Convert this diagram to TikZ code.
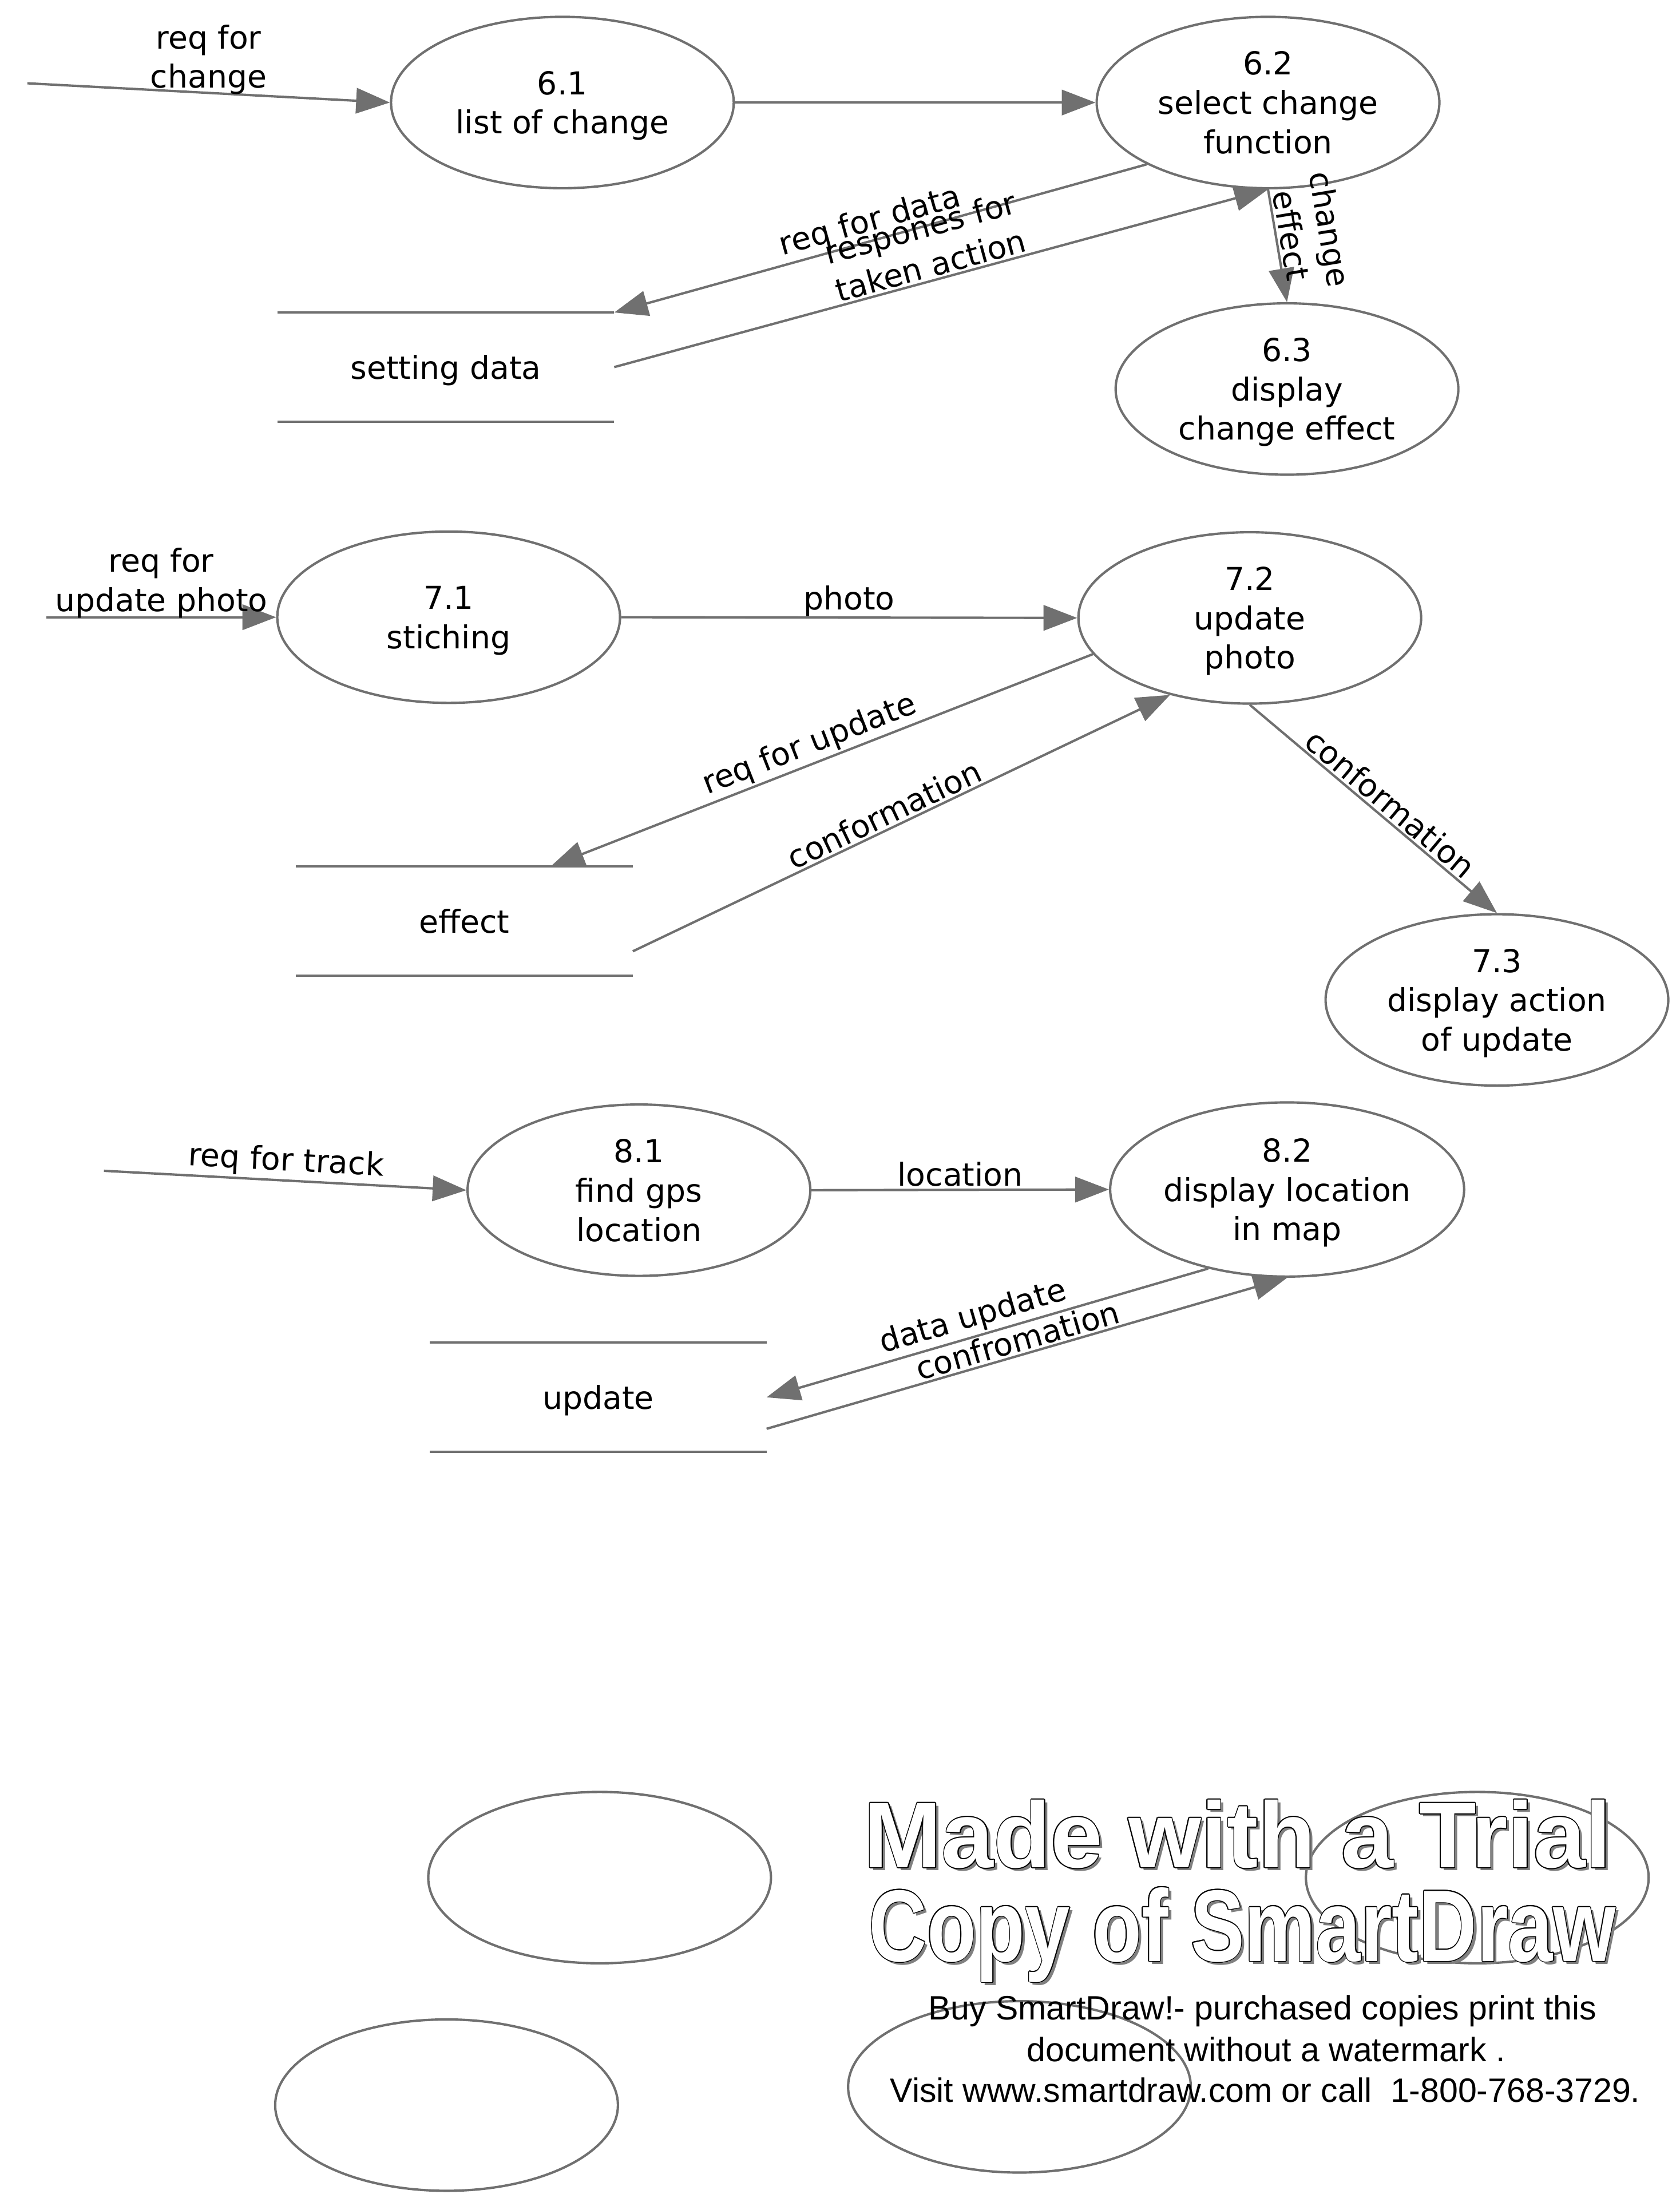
\documentclass[tikz,border=0pt]{standalone}
\usepackage{fontspec}
\usepackage{graphicx}
\setmainfont{DejaVu Sans}
\newfontfamily\wmfont{Liberation Sans}
\usepackage{contour}
\usetikzlibrary{arrows.meta,shapes.geometric}
\definecolor{flowgray}{RGB}{112,112,112}
\definecolor{shadowgray}{RGB}{128,128,128}
\newcommand\flowfont{\fontsize{16}{19.9}\selectfont}
\newcommand\wmbig{\wmfont\bfseries\fontsize{47.3}{47.8}\selectfont}
\newcommand\wmbigger{\wmfont\bfseries\fontsize{51.6}{52}\selectfont}
\newcommand\wmsmall{\wmfont\fontsize{17.1}{20}\selectfont}
\contourlength{0.45pt}

\begin{document}
\begin{tikzpicture}[x=0.025cm, y=-0.025cm]
  \tikzset{process/.style={ellipse, draw=flowgray, line width=1.2pt, minimum width=6.1cm,
                           minimum height=3.05cm, inner sep=0pt, align=center, text depth=0pt,
                           font=\flowfont},
           store/.style={minimum width=5.98cm, minimum height=1.93cm, inner sep=0pt, text depth=0pt,
                         font=\flowfont},
           storeline/.style={draw=flowgray, line width=1.2pt},
           flow/.style={draw=flowgray, line width=1.2pt, -{Triangle[length=0.6cm,width=0.45cm]}},
           lbl/.style={font=\flowfont, inner sep=1pt, align=center}}
  \useasboundingbox (0,0) rectangle (1196,1568);

  \node[process] (p61) at (400.5,73) {6.1\\list of change};
  \node[process] (p62) at (903,73) {6.2\\select change\\function};
  \node[process] (p63) at (916.5,277) {6.3\\display\\change effect};
  \node[store] (sd) at (317.5,261.4) {setting data};
  \coordinate (in6) at (19.5,59.3);

  \node[process] (p71) at (319.5,439.5) {7.1\\stiching};
  \node[process] (p72) at (890,440) {7.2\\update\\photo};
  \node[process] (p73) at (1066,712) {7.3\\display action\\of update};
  \node[store] (ef) at (330.7,655.8) {effect};
  \coordinate (in7) at (33,439.5);

  \node[process] (p81) at (455,847.5) {8.1\\find gps\\location};
  \node[process, minimum width=6.3cm, minimum height=3.1cm] (p82) at (916.6,847) {8.2\\display location\\in map};
  \node[store] (up) at (426,995) {update};
  \coordinate (in8) at (74,833.7);

  \node[process] (e1) at (427,1337) {};
  \node[process] (e2) at (318,1499) {};
  \node[process] (e3) at (1052,1337) {};
  \node[process] (e4) at (726,1486) {};

  \foreach \s in {sd,ef,up}
    \draw[storeline] (\s.north west) -- (\s.north east) (\s.south west) -- (\s.south east);

  \draw[flow] (in6) -- node[lbl, above, yshift=-2.5pt] {req for\\change} (p61.west);
  \draw[flow] (p61.east) -- (p62.west);
  \draw[flow] (p62.207) -- node[lbl, sloped, above, pos=0.51] {req for data} (sd.north east);
  \draw[flow] (sd.east) -- node[lbl, sloped, above, pos=0.49] {respones for\\taken action} (p62.south);
  \draw[flow] (p62.south) -- node[lbl, sloped, above, pos=0.43] {change\\effect} (p63.north);

  \draw[flow] (in7) -- node[lbl, above, yshift=-2pt] {req for\\update photo} (p71.west);
  \draw[flow] (p71.east) -- node[lbl, above, yshift=-1pt] {photo} (p72.west);
  \draw[flow] (p72.193.5) -- node[lbl, sloped, above, pos=0.51] {req for update} ([xshift=-1.46cm]ef.north east);
  \draw[flow] ([yshift=-0.54cm]ef.east) -- node[lbl, sloped, above, pos=0.48] {conformation} (p72.224);
  \draw[flow] (p72.south) -- node[lbl, sloped, above, pos=0.53] {conformation} (p73.north);

  \draw[flow] (in8) -- node[lbl, sloped, above] {req for track} (p81.west);
  \draw[flow] (p81.east) -- node[lbl, above] {location} (p82.west);
  \draw[flow] (p82.225) -- node[lbl, sloped, above, pos=0.52] {data update} (up.east);
  \draw[flow] ([yshift=-0.56cm]up.east) -- node[lbl, sloped, above, pos=0.49] {confromation} (p82.south);

  \node[font=\wmbig, text=shadowgray, anchor=base] (wm1s) at (883.6,1332) {Made with a Trial};
  \node[font=\wmbig, anchor=base] (wm1) at (881.4,1329.8) {\contour{black}{\textcolor{white}{Made with a Trial}}};
  \node[font=\wmbigger, text=shadowgray, anchor=base] (wm2s) at (886.9,1398.7) {\scalebox{0.79}[1]{Copy of SmartDraw}};
  \node[font=\wmbigger, anchor=base] (wm2) at (884.7,1396.5) {\scalebox{0.79}[1]{\contour{black}{\textcolor{white}{Copy of SmartDraw}}}};
  \node[font=\wmsmall, anchor=base] (wm3) at (899,1438) {Buy SmartDraw!- purchased copies print this};
  \node[font=\wmsmall, anchor=base] (wm4) at (901.6,1468) {document without a watermark .};
  \node[font=\wmsmall, anchor=base] (wm5) at (901,1496.7) {Visit www.smartdraw.com or call\ \ 1-800-768-3729.};
\end{tikzpicture}
\end{document}
